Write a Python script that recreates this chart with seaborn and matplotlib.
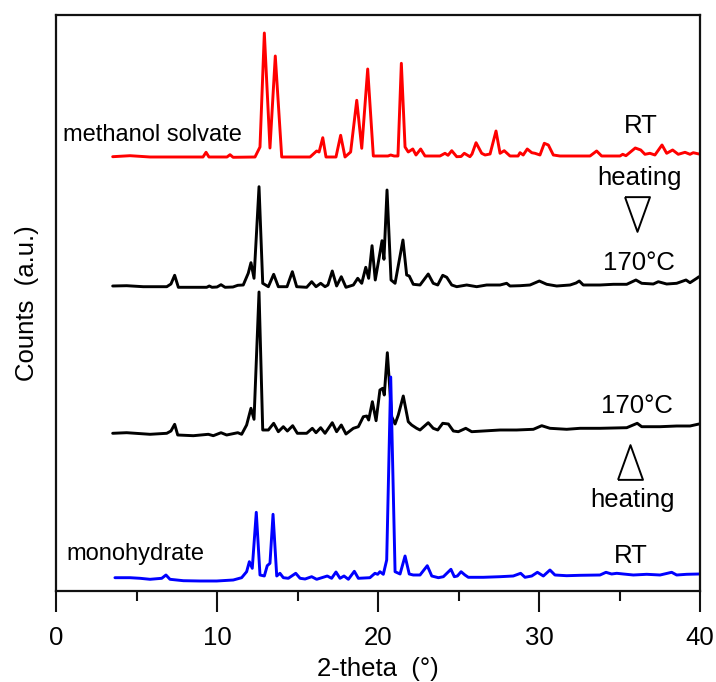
import numpy as np
import pandas as pd
import seaborn as sns
import matplotlib.pyplot as plt

# XRD patterns: 2-theta (deg) and intensity above each trace's own baseline (a.u.)
solvate_tt = [3.52, 4.6, 5.84, 8.32, 9.13, 9.32, 9.5, 10.62, 10.81, 11.0, 12.36, 12.67, 12.94, 13.29,
              13.62, 14.02, 15.78, 16.19, 16.34, 16.57, 16.77, 17.39, 17.68, 17.95, 18.3, 18.68, 18.99,
              19.36, 19.71, 20.62, 20.79, 21.0, 21.24, 21.45, 21.68, 21.88, 22.16, 22.36, 22.65, 22.92,
              23.85, 24.16, 24.35, 24.58, 24.89, 25.16, 25.36, 25.71, 25.84, 26.09, 26.44, 26.65, 26.96,
              27.33, 27.58, 27.84, 28.2, 28.7, 28.82, 29.02, 29.27, 29.55, 29.75, 30.06, 30.33, 30.58,
              30.89, 31.3, 33.17, 33.58, 33.89, 35.03, 35.2, 35.4, 35.98, 36.32, 36.58, 36.89, 37.2,
              37.64, 37.93, 38.3, 38.65, 39.07, 39.38, 39.58, 39.94]
solvate_int = [0.3, 1.3, 0, 0, 0, 4.7, 0, 0, 2.3, -0.3, 0, 10, 124, 9,
               101, 0, 0, 6, 5, 19.3, 0, 0, 21.7, 0, 5, 56.7, 8.7,
               88, 1, 1, 2, 1, 1, 93.7, 10, 5, 8, 2, 8, 1,
               1, 3.7, 1.7, 6.3, 0.3, 0.5, 3.7, 0.3, 3, 14.3, 3.7, 2, 3,
               26, 3.7, 6.3, 1, 1, 4.3, 2, 8, 4.3, 3.7, 2, 13.7, 12,
               2, 1, 1, 6, 1, 1, 2.7, 1.3, 9, 7, 2.7, 3.7, 2,
               12, 3.7, 7, 2.7, 4.7, 2.7, 4.3, 3]

heat_a_tt = [3.52, 4.39, 5.42, 6.88, 7.14, 7.37, 7.6, 9.36, 9.52, 9.69, 10.0, 10.25, 10.5, 10.99, 11.29,
             11.63, 11.94, 12.11, 12.3, 12.61, 12.84, 13.19, 13.52, 13.81, 14.35, 14.68, 14.95, 15.57,
             15.88, 16.15, 16.44, 16.71, 16.89, 17.16, 17.43, 17.72, 18.01, 18.47, 18.74, 18.99, 19.24,
             19.42, 19.63, 19.83, 20.08, 20.25, 20.37, 20.56, 20.81, 21.06, 21.55, 21.78, 21.94, 22.19,
             22.61, 23.12, 23.43, 23.71, 24.02, 24.27, 24.58, 24.89, 25.51, 26.13, 26.75, 27.58, 27.99,
             28.2, 28.82, 29.44, 30.02, 30.48, 31.1, 31.93, 32.3, 32.5, 32.75, 33.79, 34.62, 35.45,
             36.02, 36.38, 37.1, 37.41, 37.93, 38.55, 39.13, 39.38, 39.8, 39.94]
heat_a_int = [1, 1.3, 0.3, 0.3, 3, 11.7, -0.3, -0.3, 1, -0.3, 0, 2.3, -0.3, 0, 1.7,
              2, 13.7, 24.3, 8.7, 100.3, 3.7, 0.3, 12.7, 0.3, 0.3, 15.3, 0.3, -0.3,
              5.3, 0.3, 3.7, 0.3, 2, 16, 1, 10.3, -0.3, 2, 8.7, 3.7, 19.7,
              8.7, 41.3, 7, 30.3, 46.3, 27.7, 97, 7, 3.7, 47, 12, 11, 2.7,
              2, 13, 3.7, 2, 11.7, 9.7, 2, 0.3, 2, 0.3, 2, 2, 3.7,
              1, 1.3, 2, 6, 2.7, 1, 2, 4, 6, 2, 2, 2.7, 2.7,
              7, 3.7, 3, 5.3, 3, 3.7, 7, 4.3, 8.7, 10.3]

heat_b_tt = [3.52, 4.39, 5.84, 6.88, 7.14, 7.37, 7.56, 8.53, 9.46, 9.77, 10.25, 10.6, 11.29, 11.53,
             11.84, 12.11, 12.3, 12.61, 12.84, 13.19, 13.52, 13.81, 14.12, 14.37, 14.7, 14.99, 15.57,
             15.92, 16.15, 16.44, 16.71, 17.16, 17.43, 17.72, 18.01, 18.47, 18.78, 19.09, 19.3, 19.42,
             19.65, 19.88, 20.12, 20.29, 20.39, 20.58, 20.85, 21.06, 21.26, 21.57, 21.88, 22.09, 22.4,
             22.61, 23.12, 23.43, 23.71, 24.02, 24.37, 24.68, 24.99, 25.45, 25.82, 26.54, 27.58, 28.61,
             29.65, 30.17, 30.68, 31.72, 32.55, 33.79, 35.45, 36.1, 36.38, 37.52, 38.55, 39.38, 39.94]
heat_b_int = [0.7, 1.3, -0.3, 0.7, 3, 9.7, -1, -1.7, -0.3, -1.7, 1.3, -1, 1.3, -0.3,
              9, 25.7, 14.7, 142, 4, 4, 10.7, 2.3, 7.3, 3, 8.3, 0.7, 0.7,
              5.7, 1.3, 6.3, 0.7, 11.3, 2.3, 9, 0, 5.7, 7.3, 17.3, 18, 14,
              32.3, 13.3, 44, 45.7, 39, 81.3, 17.3, 10, 19, 38, 12.3, 9, 5.7,
              4, 11.3, 5.7, 4, 10.7, 10, 3, 2.3, 5.7, 2.3, 3, 4, 4,
              4.7, 8.3, 5.7, 4.7, 5.7, 5.7, 6.3, 10.7, 7.3, 7.3, 8, 8, 10]

hydrate_tt = [3.66, 4.6, 5.22, 5.84, 6.57, 6.83, 7.08, 7.91, 8.94, 9.98, 11.01, 11.53, 11.84, 12.01,
              12.19, 12.44, 12.67, 12.94, 13.12, 13.29, 13.48, 13.71, 13.91, 14.12, 14.43, 14.89, 15.16,
              15.47, 15.88, 16.19, 16.85, 17.12, 17.39, 17.64, 17.89, 18.16, 18.53, 18.78, 19.5, 19.81,
              19.98, 20.12, 20.33, 20.54, 20.79, 21.06, 21.37, 21.68, 21.94, 22.19, 22.61, 23.06, 23.34,
              23.75, 24.06, 24.53, 24.74, 24.93, 25.16, 25.4, 25.61, 26.54, 27.58, 28.4, 28.86, 29.13,
              29.55, 29.9, 30.27, 30.68, 30.99, 31.72, 32.55, 33.79, 34.16, 34.51, 34.83, 35.24, 35.86,
              36.69, 37.52, 38.24, 38.55, 39.17, 39.94]
hydrate_int = [0.3, 0.3, -0.3, -1.3, -0.3, 3, -1.3, -2.7, -3, -3, -2, 0.3, 6.3, 16.3,
               9.7, 65.7, 3, 2, 12.3, 14.7, 63.7, 2, 4.7, 0.3, -0.3, 4.7, -0.3,
               -1, 1.3, -1.3, 2, -0.3, 6, -0.3, 2, -1.3, 6.7, -0.3, 0.3, 4.7,
               3.7, 6.3, 3.7, 18, 201, 6.3, 4, 22, 4, 3, 3, 12.3, 2,
               0.3, 1.3, 8.7, 1.3, 2, 6.3, 3, 0.7, 0.7, 1.3, 2, 4.7, 0.7,
               2, 5.7, 2, 8, 3, 2.3, 2.7, 3, 5.7, 4, 4.7, 4, 3,
               3.7, 3, 5.7, 3, 3.7, 4]

patterns = ["solvate", "heat_a", "heat_b", "hydrate"]
offsets = [434, 304, 157, 13]
colors = ["#ff0000", "#000000", "#000000", "#0000ff"]

frames = []
for name, tt, inten, off in zip(patterns,
                                [solvate_tt, heat_a_tt, heat_b_tt, hydrate_tt],
                                [solvate_int, heat_a_int, heat_b_int, hydrate_int],
                                offsets):
    frames.append(pd.DataFrame({"two_theta": tt,
                                "counts": np.array(inten) + off,
                                "pattern": name}))
df = pd.concat(frames, ignore_index=True)

sns.set_theme(style="ticks", rc={"text.color": "black", "axes.labelcolor": "black",
                                 "xtick.color": "black", "axes.edgecolor": "black"})
plt.rcParams["font.family"] = ["Liberation Sans", "DejaVu Sans"]

fig = plt.figure(figsize=(7.16, 6.82), dpi=100)
ax = fig.add_axes([56 / 716, 91 / 682, 644 / 716, 576 / 682])

sns.lineplot(data=df, x="two_theta", y="counts", hue="pattern", hue_order=patterns,
             palette=dict(zip(patterns, colors)), estimator=None, sort=False,
             legend=False, lw=2.1, ax=ax)

ax.set_xlim(0, 40)
ax.set_ylim(0, 576)
ax.set_xticks([0, 10, 20, 30, 40])
ax.set_xticks([5, 15, 25, 35], minor=True)
ax.set_yticks([])
ax.tick_params(axis="x", which="major", direction="out", length=15, width=1.5,
               labelsize=18.5, pad=10, color="#111111", labelcolor="black")
ax.tick_params(axis="x", which="minor", direction="out", length=7.5, width=1.5, color="#111111")
for sp in ax.spines.values():
    sp.set_linewidth(1.6)
    sp.set_color("#111111")

ax.set_xlabel("2-theta  (\u00b0)", fontsize=18.5, labelpad=5)
ax.set_ylabel("Counts  (a.u.)", fontsize=18.5, labelpad=12)

# labels
ax.text(0.43, 450, "methanol solvate", fontsize=17, ha="left", va="baseline")
ax.text(0.62, 31, "monohydrate", fontsize=17, ha="left", va="baseline")
ax.text(36.3, 458, "RT", fontsize=18.5, ha="center", va="baseline")
ax.text(36.27, 406, "heating", fontsize=18.5, ha="center", va="baseline")
ax.text(36.2, 321, "170\u00b0C", fontsize=18.5, ha="center", va="baseline")
ax.text(36.1, 178, "170\u00b0C", fontsize=18.5, ha="center", va="baseline")
ax.text(35.78, 84, "heating", fontsize=18.5, ha="center", va="baseline")
ax.text(35.71, 28, "RT", fontsize=18.5, ha="center", va="baseline")

# open arrow heads
down_tri = [(-0.36, 0.5), (0.36, 0.5), (0, -0.5), (-0.36, 0.5)]
up_tri = [(-0.36, -0.5), (0.36, -0.5), (0, 0.5), (-0.36, -0.5)]
ax.plot([36.07], [377.5], marker=down_tri, ms=25, mfc="white", mec="black", mew=1.4, ls="none")
ax.plot([35.63], [129], marker=up_tri, ms=25, mfc="white", mec="black", mew=1.4, ls="none")

fig.savefig("out.png", dpi=100)
